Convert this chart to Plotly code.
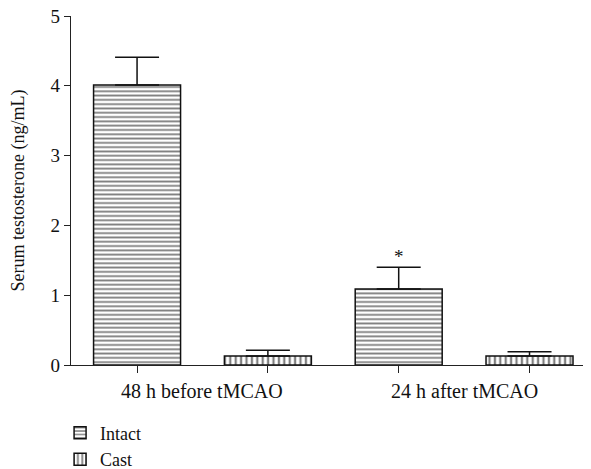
import plotly.graph_objects as go

categories = ["48 h before tMCAO", "24 h after tMCAO"]
series_names = ["Intact", "Cast"]
intact_mean = [4.01, 1.09]
intact_err = [0.40, 0.31]
cast_mean = [0.13, 0.13]
cast_err = [0.08, 0.06]
y_ticks = [0, 1, 2, 3, 4, 5]

FONT = "Liberation Serif"
n_series = len(series_names)
bar_w = 0.665

def positions(j):
    return [i * n_series + j for i in range(len(categories))]

fig = go.Figure()
patterns = ["-", "|"]
sizes = [4.3, 5.4]
for j, (name, mean, err) in enumerate(
        [(series_names[0], intact_mean, intact_err),
         (series_names[1], cast_mean, cast_err)]):
    fig.add_trace(go.Bar(
        x=positions(j), y=mean, name=name, width=bar_w,
        marker=dict(color="white",
                    line=dict(color="#111", width=1.5),
                    pattern=dict(shape=patterns[j], fgcolor="#000", bgcolor="white",
                                 size=sizes[j], solidity=0.42)),
        error_y=dict(type="data", array=err, arrayminus=[0] * len(err),
                     symmetric=False, color="#111", thickness=1.5, width=22),
    ))

tickvals = positions(0) + positions(1)
tickvals.sort()

annotations = []
for i, c in enumerate(categories):
    annotations.append(dict(
        x=i * n_series + (n_series - 1) / 2, y=0, xref="x", yref="paper",
        text=c, showarrow=False, yanchor="middle", yshift=-26,
        font=dict(family=FONT, size=20, color="#111")))

# significance marker
annotations.append(dict(
    x=positions(0)[1], y=intact_mean[1] + intact_err[1], xref="x", yref="y",
    text="*", showarrow=False, yanchor="bottom", yshift=-2,
    font=dict(family=FONT, size=19, color="#111")))

fig.update_layout(
    width=583, height=461,
    margin=dict(l=63, r=0, t=8, b=104, autoexpand=False),
    plot_bgcolor="white", paper_bgcolor="white",
    barmode="overlay",
    showlegend=True,
    legend=dict(x=-0.021, y=-0.142, xanchor="left", yanchor="top",
                font=dict(family=FONT, size=18, color="#111"),
                bgcolor="rgba(0,0,0,0)", tracegroupgap=0, itemwidth=30),
    annotations=annotations,
    xaxis=dict(range=[-0.505, 3.47], tickvals=tickvals, showticklabels=False,
               ticks="outside", ticklen=7, tickwidth=1.4, tickcolor="#222",
               showline=True, linecolor="#222", linewidth=1.4,
               showgrid=False, zeroline=False),
    yaxis=dict(range=[0, 5], tickvals=y_ticks, ticklabeloverflow="allow",
               ticks="outside", ticklen=6, tickwidth=1.4, tickcolor="#222",
               showline=True, linecolor="#222", linewidth=1.4,
               showgrid=False, zeroline=False,
               tickfont=dict(family=FONT, size=19, color="#111"),
               title=dict(text="Serum testosterone (ng/mL)", standoff=22,
                          font=dict(family=FONT, size=18, color="#111"))),
)

fig.write_html("out.html")
